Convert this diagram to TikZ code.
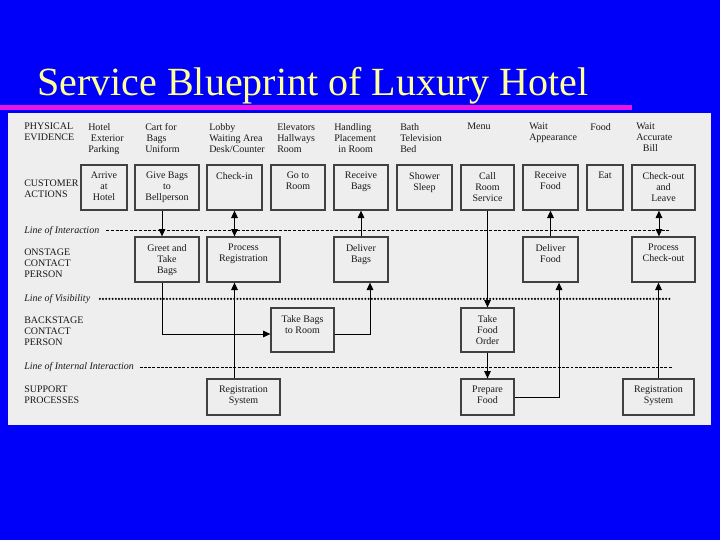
\documentclass[tikz,border=0pt]{standalone}
\usepackage{fontspec}
\setmainfont{Liberation Serif}
\usetikzlibrary{arrows.meta,fit}

\definecolor{slideblue}{RGB}{0,0,250}
\definecolor{barpink}{RGB}{230,20,230}
\definecolor{titleyellow}{RGB}{255,255,153}
\definecolor{panelgray}{RGB}{238,238,238}

\tikzset{
  blk/.style={draw=black!75, line width=1pt, inner sep=0pt},
  txt/.style={anchor=north, inner sep=0pt, align=center, yshift=-5.6pt, text=black!90},
  lane/.style={anchor=north west, inner sep=0pt, align=left, text=black!90},
  evid/.style={anchor=north west, inner sep=0pt, align=left, text=black!90},
  lineof/.style={anchor=north west, inner sep=0pt, font=\fontsize{7.5}{8.25}\selectfont\itshape, text=black!90},
  flow/.style={line width=0.6pt, ->},
  interact/.style={line width=0.8pt, dash pattern=on 2.4pt off 1.1pt},
  visib/.style={line width=1.7pt, line cap=round, dash pattern=on 0pt off 2.4pt},
  internal/.style={line width=0.45pt, dash pattern=on 2.2pt off 1pt},
}

\begin{document}
\begin{tikzpicture}[x=0.75pt, y=-0.75pt, >={Triangle[length=5.5pt,width=5pt]},
    font=\fontsize{7.5}{8.25}\selectfont]
    \fill[slideblue] (0,0) rectangle (720,540);
    \useasboundingbox (0,0) rectangle (720,540);
    \node[anchor=base west, inner sep=0pt, text=titleyellow, font=\fontsize{30}{36}\selectfont] (title) at (37,95) {Service Blueprint of Luxury Hotel};
    \fill[barpink] (0,105) rectangle (632,110);
    \fill[panelgray] (8,113) rectangle (711,425);

    % lanes
    \node[lane] (pe) at (24,123) {PHYSICAL\\EVIDENCE};
    \node[lane] (ca) at (24,180) {CUSTOMER\\ACTIONS};
    \node[lineof] (loi) at (24,226) {Line of Interaction};
    \node[lane] (oc) at (24,249) {ONSTAGE\\CONTACT\\PERSON};
    \node[lineof] (lov) at (24,294) {Line of Visibility};
    \node[lane] (bc) at (24,317) {BACKSTAGE\\CONTACT\\PERSON};
    \node[lineof] (lii) at (24,362) {Line of Internal Interaction};
    \node[lane] (sp) at (24,386) {SUPPORT\\PROCESSES};

    \coordinate (loiend) at (670,230);
    \coordinate (lovend) at (670,298);
    \coordinate (liiend) at (672,366);
    \draw[interact] ([xshift=5pt]loi.east) -- (loi.east -| loiend);
    \draw[visib] ([xshift=7pt]lov.east) -- (lov.east -| lovend);
    \draw[internal] ([xshift=4pt]lii.east) -- (lii.east -| liiend);

    % physical evidence
    \node[evid] (ev1) at (88,123) {Hotel\\\hspace{2pt}Exterior\\Parking};
    \node[evid] (ev2) at (145,123) {Cart for\\\hspace{1pt}Bags\\Uniform};
    \node[evid] (ev3) at (209,123) {Lobby\\Waiting Area\\Desk/Counter};
    \node[evid] (ev4) at (277,123) {Elevators\\Hallways\\Room};
    \node[evid] (ev5) at (334,123) {Handling\\Placement\\\hspace{3pt}in Room};
    \node[evid] (ev6) at (400,123) {Bath\\Television\\Bed};
    \node[evid] (ev7) at (467,123) {Menu};
    \node[evid] (ev8) at (529,123) {Wait\\Appearance};
    \node[evid] (ev9) at (590,123) {Food};
    \node[evid] (ev10) at (636,123) {Wait\\Accurate\\\hspace{5pt}Bill};

    % customer actions
    \node[blk, fit={(81,165) (127,210)}, label={[txt]north:Arrive\\at\\Hotel}] (arrive) {};
    \node[blk, fit={(135,165) (199,210)}, label={[txt]north:Give Bags\\to\\Bellperson}] (givebags) {};
    \node[blk, fit={(207,165) (262,210)}, label={[txt]north:Check-in}] (checkin) {};
    \node[blk, fit={(271,165) (325,210)}, label={[txt]north:Go to\\Room}] (gotoroom) {};
    \node[blk, fit={(334,165) (388,210)}, label={[txt]north:Receive\\Bags}] (recbags) {};
    \node[blk, fit={(397,165) (452,210)}, label={[txt]north:Shower\\Sleep}] (shower) {};
    \node[blk, fit={(461,165) (514,210)}, label={[txt]north:Call\\Room\\Service}] (callroom) {};
    \node[blk, fit={(523,165) (578,210)}, label={[txt]north:Receive\\Food}] (recfood) {};
    \node[blk, fit={(587,165) (623,210)}, label={[txt]north:Eat}] (eat) {};
    \node[blk, fit={(632,165) (695,210)}, label={[txt]north:Check-out\\and\\Leave}] (checkout) {};

    % onstage
    \node[blk, fit={(135,237) (199,282)}, label={[txt]north:Greet and\\Take\\Bags}] (greet) {};
    \node[blk, fit={(207,237) (280,282)}, label={[txt]north:Process\\Registration}] (procreg) {};
    \node[blk, fit={(334,237) (388,282)}, label={[txt]north:Deliver\\Bags}] (delbags) {};
    \node[blk, fit={(523,237) (578,282)}, label={[txt]north:Deliver\\Food}] (delfood) {};
    \node[blk, fit={(632,237) (695,282)}, label={[txt]north:Process\\Check-out}] (proccheck) {};

    % backstage
    \node[blk, fit={(271,308) (334,352)}, label={[txt]north:Take Bags\\to Room}] (takebags) {};
    \node[blk, fit={(461,308) (514,352)}, label={[txt]north:Take\\Food\\Order}] (takefood) {};

    % support
    \node[blk, fit={(207,379) (280,415)}, label={[txt]north:Registration\\System}] (regsys) {};
    \node[blk, fit={(461,379) (514,415)}, label={[txt]north:Prepare\\Food}] (prepfood) {};
    \node[blk, fit={(623,379) (694,415)}, label={[txt]north:Registration\\System}] (regsys2) {};

    % flows
    \draw[flow] ([xshift=-3.75pt]givebags.south) -- ([xshift=-3.75pt]greet.north);
    \draw[flow, <->] (checkin.south) -- (checkin.south |- procreg.north);
    \draw[flow] ([xshift=-3.75pt]greet.south) |- ([yshift=-3pt]takebags.west);
    \draw[flow] (regsys.north -| checkin.south) -- (procreg.south -| checkin.south);
    \draw[flow] ([yshift=-3pt]takebags.east) -| ([xshift=6.75pt]delbags.south);
    \draw[flow] (delbags.north) -- (recbags.south);
    \draw[flow] (callroom.south) -- (takefood.north);
    \draw[flow] (takefood.south) -- (prepfood.north);
    \draw[flow] (prepfood.east) -| ([xshift=6.4pt]delfood.south);
    \draw[flow] (delfood.north) -- (recfood.south);
    \draw[flow, <->] ([xshift=-3.4pt]checkout.south) -- ([xshift=-3.4pt]proccheck.north);
    \draw[flow] (regsys2.north) -- (regsys2.north |- proccheck.south);
\end{tikzpicture}
\end{document}
